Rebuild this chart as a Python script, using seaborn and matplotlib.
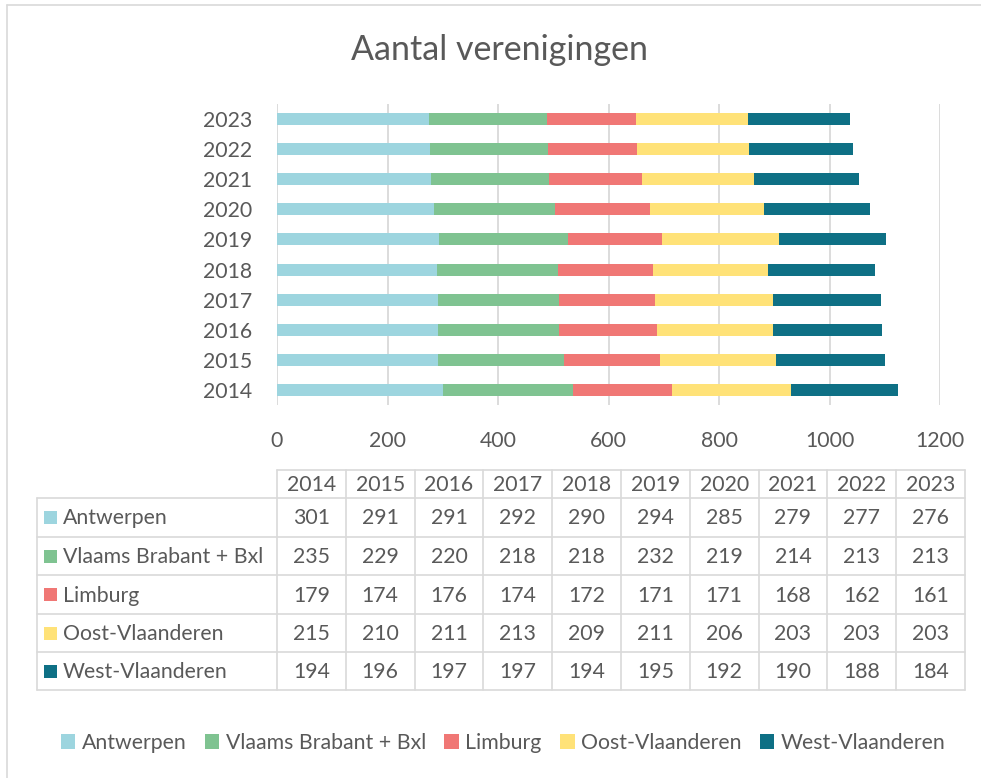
import matplotlib
matplotlib.use("Agg")
import matplotlib.pyplot as plt
from matplotlib.patches import Patch, Rectangle
import numpy as np
import pandas as pd
import seaborn as sns

years = ["2014", "2015", "2016", "2017", "2018", "2019", "2020", "2021", "2022", "2023"]
regions = ["Antwerpen", "Vlaams Brabant + Bxl", "Limburg", "Oost-Vlaanderen", "West-Vlaanderen"]
antwerpen = [301, 291, 291, 292, 290, 294, 285, 279, 277, 276]
vlaams_brabant = [235, 229, 220, 218, 218, 232, 219, 214, 213, 213]
limburg = [179, 174, 176, 174, 172, 171, 171, 168, 162, 161]
oost_vlaanderen = [215, 210, 211, 213, 209, 211, 206, 203, 203, 203]
west_vlaanderen = [194, 196, 197, 197, 194, 195, 192, 190, 188, 184]
series = [antwerpen, vlaams_brabant, limburg, oost_vlaanderen, west_vlaanderen]
colors = ["#9DD5DF", "#7FC391", "#F07775", "#FFE278", "#0E7085"]
xticks = [0, 200, 400, 600, 800, 1000, 1200]
title = "Aantal verenigingen"

sns.set_theme(style="white")
plt.rcParams["font.family"] = ["Lato", "DejaVu Sans"]
TXT = "#595959"
GRID = "#D9D9D9"
FS = 15.3

W, H = 981, 778
fig = plt.figure(figsize=(W / 100, H / 100), dpi=100)

def fx(px):
    return px / W

def fy(py):
    return 1 - py / H

# overlay axes in pixel coordinates for frame and table
ov = fig.add_axes([0, 0, 1, 1])
ov.set_xlim(0, W)
ov.set_ylim(H, 0)
ov.axis("off")

# chart frame
ov.plot([7, W], [5, 5], color=GRID, lw=1.2)
ov.plot([7, 7], [5, H], color=GRID, lw=1.2)

# main axes
ax_l, ax_r, ax_t, ax_b = 277, 940, 104, 405
ax = fig.add_axes([fx(ax_l), fy(ax_b), fx(ax_r - ax_l), (ax_b - ax_t) / H])

order = years[::-1]
df = pd.DataFrame({"year": years})
cum = np.zeros(len(years))
cums = []
for s in series:
    cum = cum + np.array(s)
    cums.append(cum.copy())
for i in reversed(range(len(series))):
    df["v"] = cums[i]
    sns.barplot(data=df, x="v", y="year", order=order, color=colors[i],
                saturation=1, width=0.4, linewidth=0, ax=ax, orient="h")

ax.set_xlim(0, 1200)
ax.set_xticks(xticks)
ax.set_xticklabels([str(t) for t in xticks])
ax.set_xlabel("")
ax.set_ylabel("")
ax.xaxis.grid(True, color=GRID, lw=1.3)
ax.yaxis.grid(False)
ax.set_axisbelow(True)
for sp in ax.spines.values():
    sp.set_visible(False)
ax.tick_params(axis="both", length=0, labelsize=FS, colors=TXT)
ax.tick_params(axis="x", pad=19)
ax.tick_params(axis="y", pad=18)

# title
fig.text(fx(500), fy(50), title, ha="center", va="center", fontsize=24.5, color=TXT)

# data table
col0 = 277
colw = (965 - 277) / 10
xs = [col0 + k * colw for k in range(11)]
rows = [470, 498, 537, 575, 614, 652, 690]
lw = 1.2
ov.plot([col0, xs[-1]], [rows[0], rows[0]], color=GRID, lw=lw)
for r in rows[1:]:
    ov.plot([37, xs[-1]], [r, r], color=GRID, lw=lw)
ov.plot([37, 37], [rows[1], rows[-1]], color=GRID, lw=lw)
for x in xs:
    ov.plot([x, x], [rows[0], rows[-1]], color=GRID, lw=lw)
for k, y in enumerate(years):
    ov.text(xs[k] + colw / 2, (rows[0] + rows[1]) / 2 + 1, y, ha="center", va="center",
            fontsize=FS, color=TXT)
for j, (name, s) in enumerate(zip(regions, series)):
    yc = (rows[j + 1] + rows[j + 2]) / 2
    ov.add_patch(Rectangle((44, yc - 6.5), 13, 13, facecolor=colors[j], edgecolor="none"))
    ov.text(63, yc + 1, name, ha="left", va="center", fontsize=FS, color=TXT)
    for k, v in enumerate(s):
        ov.text(xs[k] + colw / 2, yc + 1, str(v), ha="center", va="center",
                fontsize=FS, color=TXT)

# legend
handles = [Patch(facecolor=c, edgecolor="none", label=n) for c, n in zip(colors, regions)]
leg = fig.legend(handles=handles, loc="center", bbox_to_anchor=(fx(503), fy(743)), ncol=5,
                 frameon=False, fontsize=FS, handlelength=0.7, handleheight=0.7,
                 handletextpad=0.3, columnspacing=0.85, labelcolor=TXT)

fig.savefig("out.png", dpi=100)
